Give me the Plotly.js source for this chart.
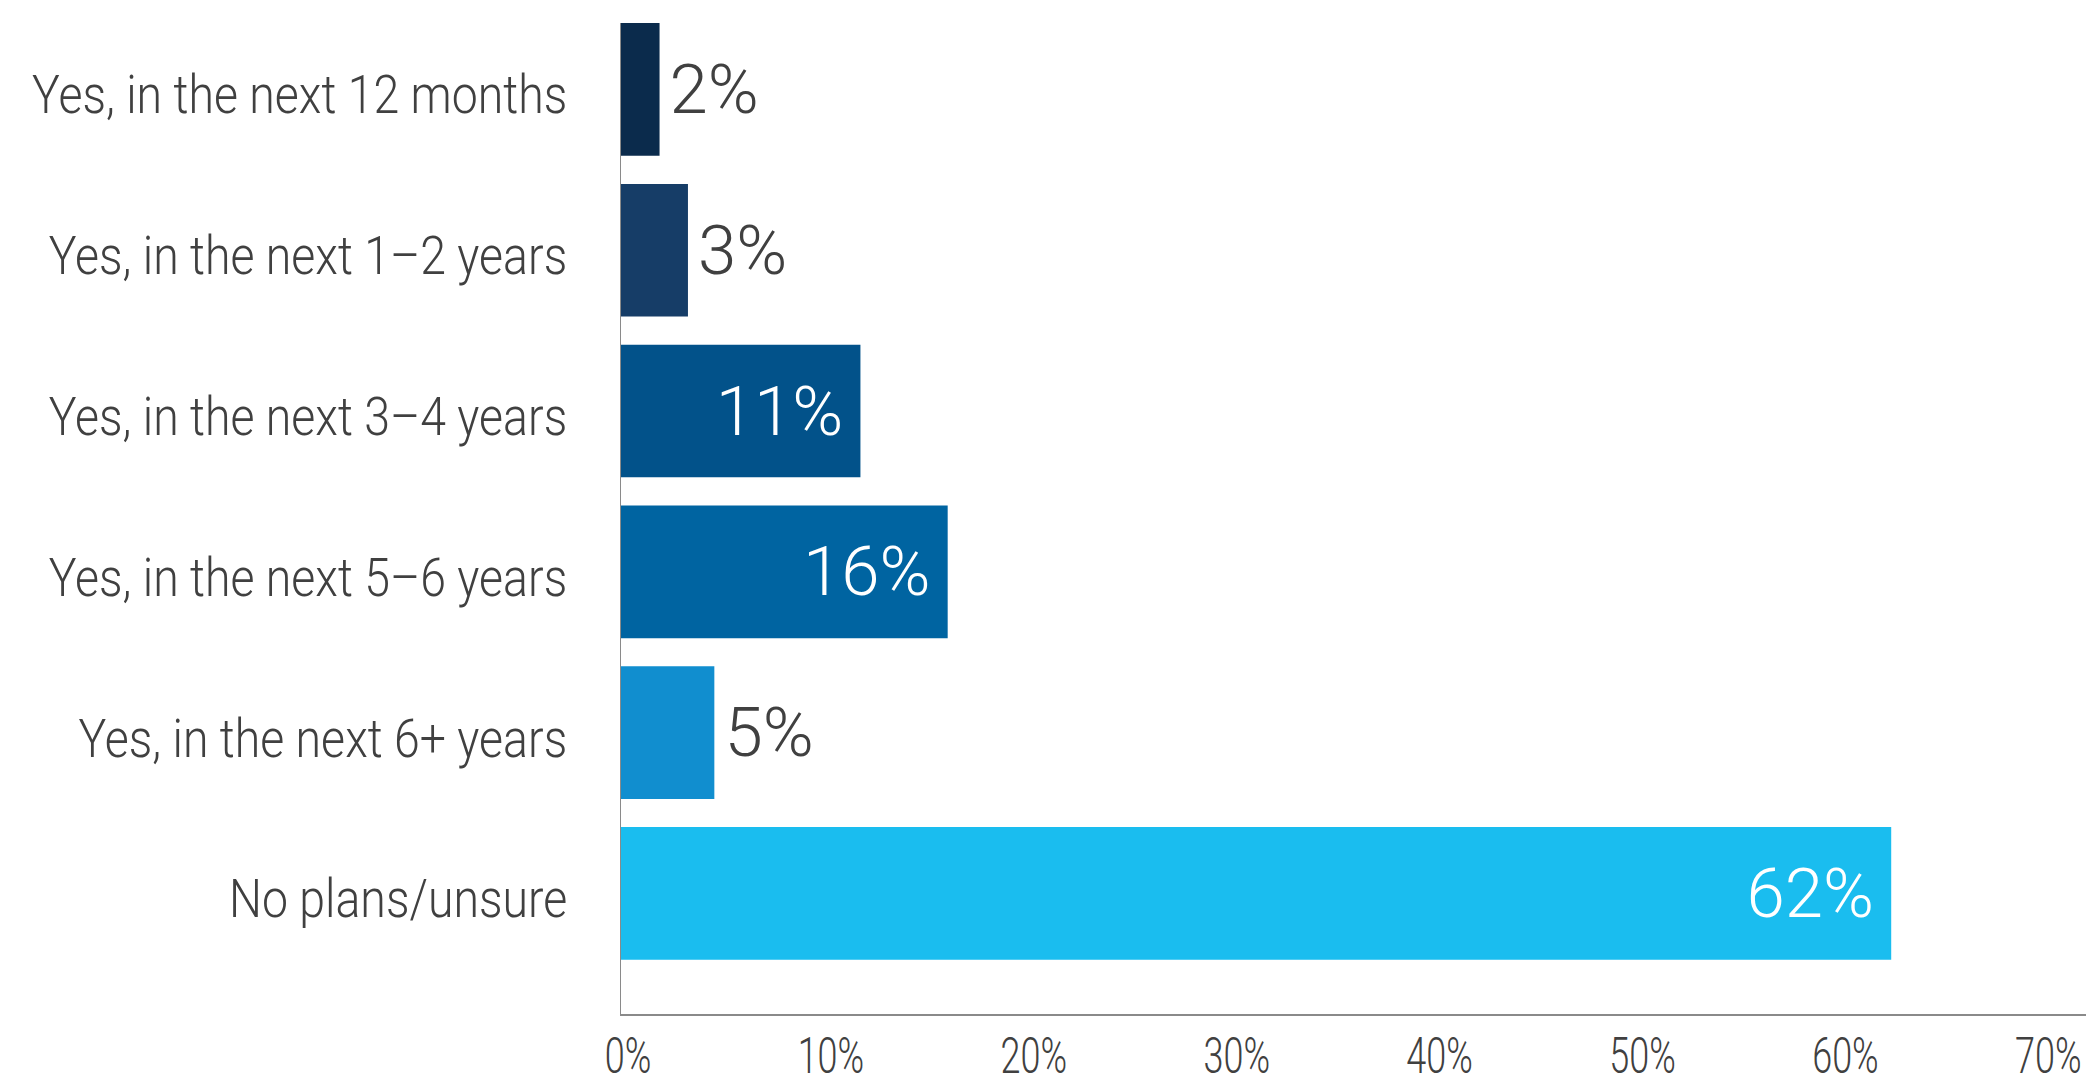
<!DOCTYPE html>
<html>
<head>
<meta charset="utf-8">
<script src="https://cdn.plot.ly/plotly-3.0.1.min.js"></script>
<style>html,body{margin:0;padding:0;background:#fff;}#chart{width:2086px;height:1081px;}</style>
</head>
<body>
<div id="chart"></div>
<script>
const categories = [
  "Yes, in the next 12 months",
  "Yes, in the next 1–2 years",
  "Yes, in the next 3–4 years",
  "Yes, in the next 5–6 years",
  "Yes, in the next 6+ years",
  "No plans/unsure"
];
const values = [1.9, 3.3, 11.8, 16.1, 4.6, 62.6];
const valueLabels = ["2%", "3%", "11%", "16%", "5%", "62%"];
const barColors = ["#0b2b4c", "#163d67", "#02528a", "#0064a1", "#118ecf", "#1abdef"];
const labelPositions = ["outside", "outside", "inside", "inside", "outside", "inside"];
const labelColors = ["#404040", "#404040", "#ffffff", "#ffffff", "#404040", "#ffffff"];
const xTickValues = [0, 10, 20, 30, 40, 50, 60, 70];
const xTickLabels = ["0%", "10%", "20%", "30%", "40%", "50%", "60%", "70%"];

const FONT = 'Roboto, "Open Sans", sans-serif';
const CAT_SCALE = 0.86;   // emulate condensed face
const TICK_SCALE = 0.72;

// thin spacing keeps labels off the bar end like the reference
const shownLabels = valueLabels.map((t, i) => labelPositions[i] === 'inside' ? t + '\u2009' : '\u200A' + t);

const trace = {
  type: 'bar',
  orientation: 'h',
  y: categories,
  x: values,
  text: shownLabels,
  textposition: labelPositions,
  insidetextanchor: 'end',
  constraintext: 'none',
  textfont: {family: FONT, size: 69, weight: 300, color: labelColors},
  marker: {color: barColors, line: {width: 0}},
  hoverinfo: 'none',
  cliponaxis: false
};

const layout = {
  width: 2086,
  height: 1081,
  margin: {l: 621, r: 0, t: 23, b: 67},
  paper_bgcolor: '#ffffff',
  plot_bgcolor: '#ffffff',
  showlegend: false,
  bargap: 0.175,
  font: {family: FONT, color: '#404040', weight: 300},
  xaxis: {
    range: [0, 72.2],
    tickvals: xTickValues,
    ticktext: xTickLabels,
    showgrid: false,
    zeroline: false,
    showline: true,
    linecolor: '#8a8a8a',
    linewidth: 2,
    ticks: '',
    ticklabelstandoff: 0,
    ticklabelshift: 7,
    ticklabeloverflow: 'allow',
    tickfont: {family: FONT, size: 50, weight: 300, color: '#404040'}
  },
  yaxis: {
    type: 'category',
    range: [5.75, -0.413],
    showgrid: false,
    zeroline: false,
    showline: true,
    linecolor: '#8a8a8a',
    linewidth: 1,
    ticks: '',
    ticklabelstandoff: 42,
    tickfont: {family: FONT, size: 54, weight: 300, color: '#404040'}
  }
};

function condense(selector, s, dy) {
  document.querySelectorAll(selector).forEach(el => {
    const bb = el.getBBox();
    const anchor = el.getAttribute('text-anchor') || 'start';
    let ax = bb.x;
    if (anchor === 'end') ax = bb.x + bb.width;
    else if (anchor === 'middle') ax = bb.x + bb.width / 2;
    const prev = el.getAttribute('transform') || '';
    el.setAttribute('transform', prev + ' translate(' + ax + ',' + dy + ') scale(' + s + ',1) translate(' + (-ax) + ',0)');
  });
}

Plotly.newPlot('chart', [trace], layout, {displayModeBar: false, staticPlot: true}).then(() => {
  condense('#chart .ytick text', CAT_SCALE, 5);
  condense('#chart .xtick text', TICK_SCALE, -3);
});
</script>
</body>
</html>
